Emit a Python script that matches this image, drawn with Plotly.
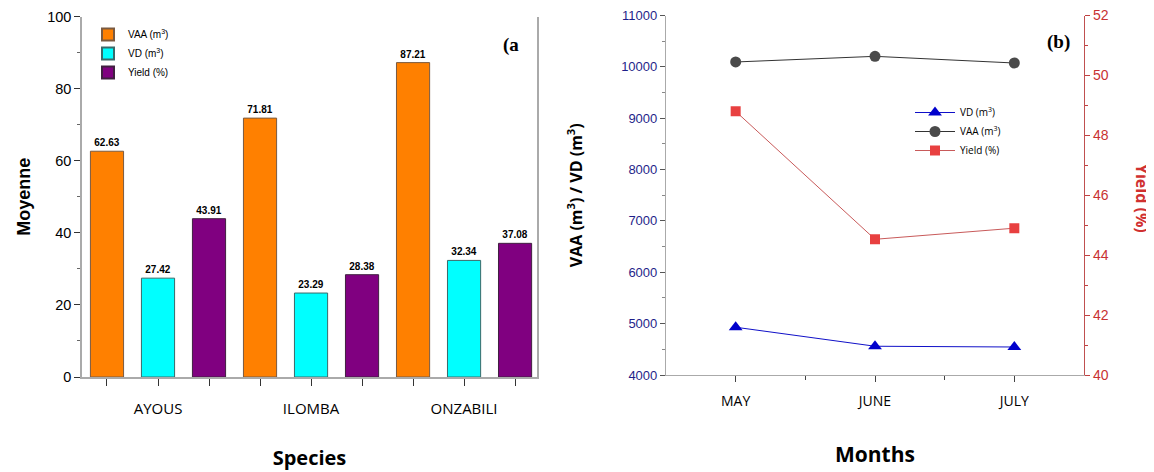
import plotly.graph_objects as go

# ---- Panel (a) data ----
species = ["AYOUS", "ILOMBA", "ONZABILI"]
vaa_mean = [62.63, 71.81, 87.21]
vd_mean = [27.42, 23.29, 32.34]
yield_mean = [43.91, 28.38, 37.08]

# ---- Panel (b) data ----
months = ["MAY", "JUNE", "JULY"]
vd_month = [4930, 4560, 4545]
vaa_month = [10095, 10205, 10075]
yield_month = [48.8, 44.53, 44.9]

W, H = 1154, 472
OFF = 8  # default page body margin
def px(x): return (x - OFF) / W
def py(y): return 1 - (y - OFF) / H

fig = go.Figure()

n = len(species)
pos_vaa = [3 * i + 1 for i in range(n)]
pos_vd = [3 * i + 2 for i in range(n)]
pos_y = [3 * i + 3 for i in range(n)]

bar_common = dict(width=0.65, textposition="outside",
                  textfont=dict(family="Liberation Sans, Arial", size=10, color="black"),
                  cliponaxis=False, xaxis="x", yaxis="y", legend="legend")
fig.add_trace(go.Bar(x=pos_vaa, y=vaa_mean, name="VAA (m<sup>3</sup>)",
                     text=[f"<b>{v:.2f}</b>" for v in vaa_mean],
                     marker=dict(color="#FF8000", line=dict(color="#7a5a40", width=1)), **bar_common))
fig.add_trace(go.Bar(x=pos_vd, y=vd_mean, name="VD (m<sup>3</sup>)",
                     text=[f"<b>{v:.2f}</b>" for v in vd_mean],
                     marker=dict(color="#00FFFF", line=dict(color="#3a6a6a", width=1)), **bar_common))
fig.add_trace(go.Bar(x=pos_y, y=yield_mean, name="Yield (%)",
                     text=[f"<b>{v:.2f}</b>" for v in yield_mean],
                     marker=dict(color="#800080", line=dict(color="#402040", width=1)), **bar_common))

# panel (b) lines
xi = list(range(len(months)))
fig.add_trace(go.Scatter(x=xi, y=vd_month, name="VD (m<sup>3</sup>)", mode="lines+markers",
                         line=dict(color="#1010C8", width=1),
                         marker=dict(symbol="triangle-up", size=12, color="#0000CC"),
                         xaxis="x2", yaxis="y2", legend="legend2"))
fig.add_trace(go.Scatter(x=xi, y=vaa_month, name="VAA (m<sup>3</sup>)", mode="lines+markers",
                         line=dict(color="#333333", width=1),
                         marker=dict(symbol="circle", size=11, color="#4a4a4a"),
                         xaxis="x2", yaxis="y2", legend="legend2"))
fig.add_trace(go.Scatter(x=xi, y=yield_month, name="Yield (%)", mode="lines+markers",
                         line=dict(color="#C85A5A", width=1),
                         marker=dict(symbol="square", size=10, color="#E84040"),
                         xaxis="x2", yaxis="y3", legend="legend2"))

tick_font = dict(family="Liberation Sans, Arial", size=14.5, color="black")
all_pos = sorted(pos_vaa + pos_vd + pos_y)
tick_text = [species[(p - 1) // 3] if p in pos_vd else "" for p in all_pos]

fig.update_layout(
    width=W, height=H, margin=dict(l=0, r=0, t=0, b=0, autoexpand=False),
    paper_bgcolor="white", plot_bgcolor="white",
    barmode="overlay", showlegend=True,
    xaxis=dict(domain=[px(82), px(537)], range=[0.51, 9.43], automargin=False,
               tickvals=all_pos, ticktext=tick_text, ticklabeloverflow="allow",
               ticks="outside", ticklen=7, tickcolor="#333",
               tickfont=dict(family="Open Sans, Liberation Sans", size=15, color="black"),
               ticklabelstandoff=10,
               showline=True, linecolor="#aaaaaa", linewidth=1.5, showgrid=False, zeroline=False,
               title=dict(text="<b>Species</b>", font=dict(family="Open Sans", size=20, color="black"),
                          standoff=34),
               anchor="y"),
    yaxis=dict(domain=[py(377), py(16.5)], range=[0, 100], dtick=20, automargin=False,
               ticklabeloverflow="allow",
               ticks="outside", ticklen=6, tickcolor="#333", tickfont=tick_font,
               minor=dict(dtick=10, ticks="outside", ticklen=3, tickcolor="#666"),
               showline=True, linecolor="#aaaaaa", linewidth=1.5, mirror=True,
               showgrid=False, zeroline=False,
               title=dict(text="<b>Moyenne</b>", font=dict(family="Liberation Sans, Arial", size=18, color="black"),
                          standoff=12),
               anchor="x"),
    xaxis2=dict(domain=[px(666), px(1084)], range=[-0.5, 2.5], automargin=False,
                tickvals=xi, ticktext=months, ticklabeloverflow="allow",
                ticks="outside", ticklen=6, tickcolor="#444",
                minor=dict(tickvals=[0.5, 1.5], ticks="outside", ticklen=4, tickcolor="#444"),
                tickfont=dict(family="Open Sans, Liberation Sans", size=14, color="black"),
                ticklabelstandoff=7,
                showline=True, linecolor="#aaaaaa", linewidth=1.2, showgrid=False, zeroline=False,
                title=dict(text="<b>Months</b>", font=dict(family="Open Sans", size=21, color="black"),
                           standoff=38),
                anchor="y2"),
    yaxis2=dict(domain=[py(375), py(15.5)], range=[4000, 11000], dtick=1000, tickformat="d",
                automargin=False, ticklabeloverflow="allow",
                ticks="outside", ticklen=5, tickcolor="#555",
                minor=dict(dtick=500, ticks="outside", ticklen=3, tickcolor="#888"),
                tickfont=dict(family="Liberation Sans, Arial", size=13, color="#1F1F8A"),
                showline=True, linecolor="#aaaaaa", linewidth=1.2, showgrid=False, zeroline=False,
                title=dict(text="<b>VAA (m<sup>3</sup>) / VD (m<sup>3</sup>)</b>",
                           font=dict(family="Open Sans", size=16, color="black"), standoff=34),
                anchor="x2"),
    yaxis3=dict(range=[40, 52], dtick=2, overlaying="y2", side="right", anchor="x2",
                automargin=False, ticklabeloverflow="allow",
                ticks="outside", ticklen=5, tickcolor="#C04040",
                minor=dict(dtick=1, ticks="outside", ticklen=3, tickcolor="#C04040"),
                tickfont=dict(family="Liberation Sans, Arial", size=14, color="#C83232"),
                showline=True, linecolor="#C05050", linewidth=1.2, showgrid=False, zeroline=False),
    legend=dict(x=px(88), y=py(20), xanchor="left", yanchor="top",
                bgcolor="rgba(0,0,0,0)", tracegroupgap=2, itemsizing="constant",
                font=dict(family="Liberation Sans, Arial", size=10, color="black")),
    legend2=dict(x=px(910), y=py(98), xanchor="left", yanchor="top",
                 bgcolor="rgba(0,0,0,0)", itemwidth=40,
                 font=dict(family="Open Sans, Liberation Sans", size=10, color="black")),
    annotations=[
        dict(text="<b>(a</b>", x=px(511), y=py(45), xref="paper", yref="paper",
             xanchor="center", yanchor="middle",
             showarrow=False, font=dict(family="Liberation Serif, Times New Roman", size=19, color="black")),
        dict(text="<b>(b)</b>", x=px(1058), y=py(42), xref="paper", yref="paper",
             xanchor="center", yanchor="middle",
             showarrow=False, font=dict(family="Liberation Serif, Times New Roman", size=19, color="black")),
        dict(text="<b>Yield (%)</b>", x=px(1142), y=py(198), xref="paper", yref="paper",
             xanchor="center", yanchor="middle",
             textangle=90, showarrow=False,
             font=dict(family="Open Sans", size=16, color="#D03030")),
    ],
)

fig.write_html("out.html")
